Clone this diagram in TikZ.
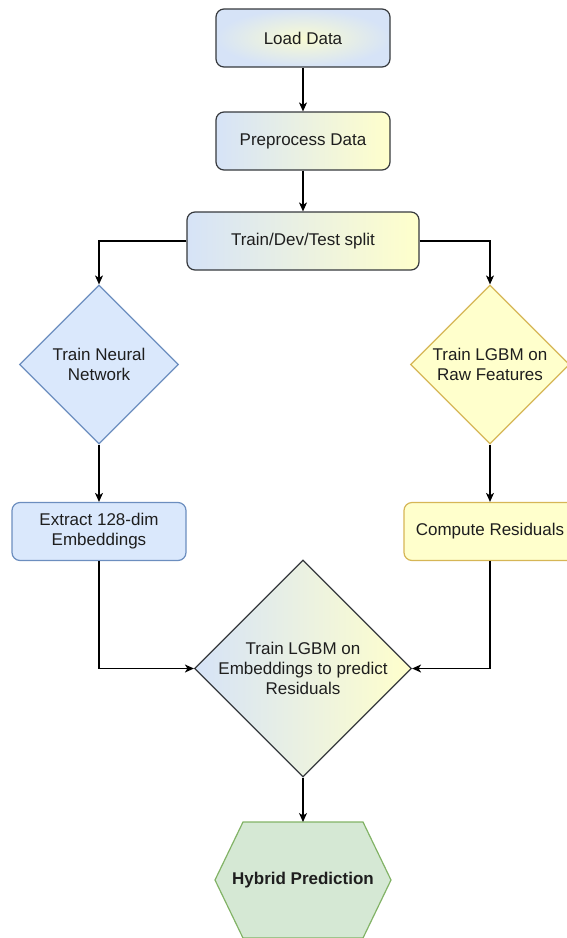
\documentclass[tikz,border=0pt]{standalone}
\usepackage{fontspec}
\setmainfont{Liberation Sans}
\usetikzlibrary{shapes.geometric,arrows.meta}

\definecolor{bluefill}{HTML}{DAE8FC}
\definecolor{bluestroke}{HTML}{6C8EBF}
\definecolor{yelfill}{HTML}{FFFFCC}
\definecolor{yelstroke}{HTML}{D6B656}
\definecolor{grnfill}{HTML}{D5E8D4}
\definecolor{grnstroke}{HTML}{82B366}
\definecolor{darkline}{HTML}{36393D}
\definecolor{gradL}{HTML}{D6E3F7}
\definecolor{gradR}{HTML}{FFFFCC}
\definecolor{txt}{HTML}{1E1E1E}

\tikzset{
  basefont/.style={font=\fontsize{17}{20}\selectfont, text=txt},
  procbox/.style={basefont, draw=darkline, line width=1.2pt, rounded corners=8pt,
    minimum width=174pt, minimum height=58pt, inner sep=0pt, align=center},
  gradbox/.style={procbox, left color=gradL, right color=gradR},
  bluebox/.style={procbox, draw=bluestroke, fill=bluefill},
  yelbox/.style={procbox, draw=yelstroke, fill=yelfill},
  decide/.style={diamond, line width=1.2pt, minimum width=159pt, minimum height=159pt,
    inner sep=0pt},
  label/.style={basefont, align=center, inner sep=0pt},
  arr/.style={draw=black, line width=1.2pt, -{Stealth[length=9pt,width=8pt,inset=2.5pt]}},
}

\begin{document}
\begin{tikzpicture}[x=1pt,y=-1pt]
  \useasboundingbox (0,0) rectangle (567,938);
  \clip (0,0) rectangle (567,938);

  % top chain
  \node[procbox, draw=darkline, inner color=gradR!85!gradL, outer color=gradL] (load) at (303,38) {Load Data};
  \node[gradbox] (prep) at (303,141) {Preprocess Data};
  \node[gradbox, minimum width=232pt] (split) at (303,241) {Train/Dev/Test split};

  % left branch
  \node[decide, draw=bluestroke, fill=bluefill] (nn) at (99,364.5) {};
  \node[label] at (nn) {Train Neural\\Network};
  \node[bluebox] (ext) at (99,531.5) {Extract 128-dim\\Embeddings};

  % right branch
  \node[decide, draw=yelstroke, fill=yelfill] (raw) at (490,364.5) {};
  \node[label] at (raw) {Train LGBM on\\Raw Features};
  \node[yelbox, minimum width=172pt] (res) at (490,531.5) {Compute Residuals};

  % merge
  \node[decide, draw=darkline, left color=gradL, right color=gradR,
        minimum width=217pt, minimum height=217pt] (mid) at (303,668.5) {};
  \node[label] at (mid) {Train LGBM on\\Embeddings to predict\\Residuals};

  % output hexagon
  \filldraw[fill=grnfill, draw=grnstroke, line width=1.2pt]
    (243,822) -- (363,822) -- (391,880) -- (363,938) -- (243,938) -- (215,880) -- cycle;
  \coordinate (hybtop) at (303,822);
  \node[basefont, font=\fontsize{17}{20}\selectfont\bfseries] (hyb) at (303,880) {Hybrid Prediction};

  % connectors
  \draw[arr] (load) -- (prep);
  \draw[arr] (prep) -- (split);
  \draw[arr] (split.west) -| (nn.north);
  \draw[arr] (split.east) -| (raw.north);
  \draw[arr] (nn.south) -- (ext.north);
  \draw[arr] (raw.south) -- (res.north);
  \draw[arr] (ext.south) |- (mid.west);
  \draw[arr] (res.south) |- (mid.east);
  \draw[arr] (mid.south) -- (hybtop);
\end{tikzpicture}
\end{document}
